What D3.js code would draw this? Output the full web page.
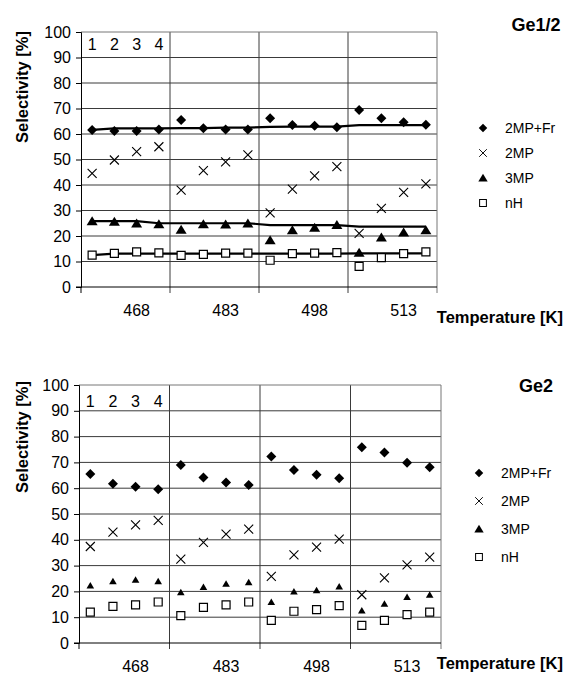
<!DOCTYPE html>
<html>
<head>
<meta charset="utf-8">
<script src="https://cdn.jsdelivr.net/npm/d3@7"></script>
<style>
  body { margin: 0; background: #fff; }
  svg { display: block; font-family: "Liberation Sans", Arial, sans-serif; }
</style>
</head>
<body>
<div id="chart"></div>
<script>
// categories
const temperatures = ['468', '483', '498', '513'];
const pointLabels = ['1', '2', '3', '4'];
const seriesNames = ['2MP+Fr', '2MP', '3MP', 'nH'];
const yTicks = [0, 10, 20, 30, 40, 50, 60, 70, 80, 90, 100];

// Ge1/2 values (16 points: 4 per temperature)
const ge12_2MPFr = [61.6, 61.2, 61.2, 61.8, 65.5, 62.3, 61.8, 61.8, 66.2, 63.5, 63.2, 62.6, 69.4, 66.2, 64.6, 63.6];
const ge12_2MP = [44.6, 49.8, 53.1, 55.0, 38.0, 45.6, 49.1, 51.8, 29.1, 38.4, 43.6, 47.2, 21.0, 30.8, 37.1, 40.4];
const ge12_3MP = [25.8, 25.6, 24.9, 24.6, 22.5, 24.6, 24.5, 24.9, 18.3, 22.3, 23.2, 24.3, 13.4, 19.4, 21.4, 22.3];
const ge12_nH = [12.5, 13.2, 13.8, 13.4, 12.4, 12.8, 13.3, 13.3, 10.5, 13.1, 13.3, 13.5, 8.1, 11.5, 13.1, 13.8];
// Ge1/2 trend lines
const ge12_trend2MPFr = [61.6, 62.2, 62.2, 62.2, 62.3, 62.3, 62.5, 62.5, 62.8, 62.9, 62.9, 62.9, 63.5, 63.5, 63.5, 63.5];
const ge12_trend3MP = [25.8, 25.8, 25.8, 25.0, 25.0, 25.0, 25.0, 25.0, 24.3, 24.3, 24.3, 24.3, 23.7, 23.7, 23.7, 23.7];
const ge12_trendNH = [12.5, 13.1, 13.1, 13.1, 13.1, 13.1, 13.1, 13.1, 13.1, 13.1, 13.1, 13.1, 13.2, 13.2, 13.2, 13.2];

// Ge2 values
const ge2_2MPFr = [65.5, 61.7, 60.6, 59.6, 69.0, 64.1, 62.2, 61.2, 72.3, 67.1, 65.2, 63.9, 75.9, 73.8, 69.9, 68.1];
const ge2_2MP = [37.4, 43.0, 45.8, 47.5, 32.5, 39.0, 42.2, 44.1, 25.8, 34.2, 37.2, 40.3, 18.7, 25.2, 30.3, 33.3];
const ge2_3MP = [22.3, 23.9, 24.5, 23.9, 19.7, 21.7, 23.0, 23.5, 15.9, 20.0, 20.4, 21.9, 12.6, 15.2, 17.8, 18.7];
const ge2_nH = [12.0, 14.2, 14.8, 15.9, 10.6, 13.8, 14.8, 15.9, 8.8, 12.3, 12.9, 14.5, 6.8, 8.8, 11.0, 12.0];

const W = 565, H = 680;
const svg = d3.select('#chart').append('svg')
    .attr('width', W)
    .attr('height', H);

// marker shapes
function markerPath(name, small) {
    if (name === '2MP+Fr') return 'M0,-5L5,0L0,5L-5,0Z';
    if (name === '2MP') return 'M-4.5,-4.5L4.5,4.5M-4.5,4.5L4.5,-4.5';
    if (name === '3MP') return small ? 'M0,-3.5L3.8,3L-3.8,3Z' : 'M0,-5L5.5,4L-5.5,4Z';
    return 'M-4,-4H4V4H-4Z';
}
function styleMarker(sel, name) {
    if (name === 'nH') {
        sel.attr('fill', '#fff').attr('stroke', '#000').attr('stroke-width', 1.2);
    } else if (name === '2MP') {
        sel.attr('fill', 'none').attr('stroke', '#000').attr('stroke-width', 1.1);
    } else {
        sel.attr('fill', '#000').attr('stroke', 'none');
    }
}

function drawPanel(p) {
    const g = svg.append('g');
    const x = d3.scaleBand().domain(d3.range(16)).range([p.left, p.right]);
    const xc = i => x(i) + x.bandwidth() / 2;
    const y = d3.scaleLinear().domain([0, 100]).range([p.bottom, p.top]);

    // horizontal grid
    g.selectAll('.grid')
        .data(yTicks.filter(v => v > 0 && v < 100))
        .join('line')
        .attr('x1', p.left).attr('x2', p.right)
        .attr('y1', d => y(d)).attr('y2', d => y(d))
        .attr('stroke', '#3a3a3a').attr('stroke-width', 1);

    // group dividers (extend below axis as ticks)
    g.selectAll('.div')
        .data([1, 2, 3])
        .join('line')
        .attr('x1', d => x(d * 4)).attr('x2', d => x(d * 4))
        .attr('y1', p.top).attr('y2', p.bottom + 6)
        .attr('stroke', '#3a3a3a').attr('stroke-width', 1);

    // top and right border
    g.append('line').attr('x1', p.left).attr('x2', p.right)
        .attr('y1', p.top).attr('y2', p.top)
        .attr('stroke', '#777').attr('stroke-width', 1);
    g.append('line').attr('x1', p.right).attr('x2', p.right)
        .attr('y1', p.top).attr('y2', p.bottom + 6)
        .attr('stroke', '#777').attr('stroke-width', 1);

    // y axis
    const yAxis = g.append('g')
        .attr('transform', `translate(${p.left},0)`)
        .call(d3.axisLeft(y).tickValues(yTicks).tickSize(5).tickPadding(5));
    yAxis.select('.domain').attr('stroke', '#000');
    yAxis.selectAll('.tick line').attr('stroke', '#000');
    yAxis.selectAll('.tick text')
        .attr('font-size', 16).attr('fill', '#000')
        .attr('font-family', '"Liberation Sans", Arial, sans-serif');

    // x axis line and ticks at group edges
    g.append('line').attr('x1', p.left - 5).attr('x2', p.right)
        .attr('y1', p.bottom).attr('y2', p.bottom)
        .attr('stroke', '#000').attr('stroke-width', 1);
    g.append('line').attr('x1', p.left).attr('x2', p.left)
        .attr('y1', p.bottom).attr('y2', p.bottom + 6)
        .attr('stroke', '#000');

    // temperature labels
    g.selectAll('.tl')
        .data(temperatures)
        .join('text')
        .attr('x', (d, i) => xc(i * 4 + 2))
        .attr('y', p.bottom + 23)
        .attr('dy', '0.35em')
        .attr('text-anchor', 'middle')
        .attr('font-size', 16)
        .text(d => d);

    // point index labels
    g.selectAll('.pl')
        .data(pointLabels)
        .join('text')
        .attr('x', (d, i) => xc(i))
        .attr('y', p.top + p.numOffset)
        .attr('dy', '0.35em')
        .attr('text-anchor', 'middle')
        .attr('font-size', 16)
        .text(d => d);

    // trend lines
    const line = d3.line().x((d, i) => xc(i)).y(d => y(d));
    p.trends.forEach(t => {
        g.append('path')
            .attr('d', line(t))
            .attr('fill', 'none')
            .attr('stroke', '#000')
            .attr('stroke-width', 2.2);
    });

    // markers
    seriesNames.forEach((name, si) => {
        const m = g.selectAll('.m' + si)
            .data(p.series[si])
            .join('path')
            .attr('d', markerPath(name, p.smallTri))
            .attr('transform', (d, i) => `translate(${xc(i)},${y(d)})`);
        styleMarker(m, name);
    });

    // legend
    const lg = g.append('g');
    seriesNames.forEach((name, si) => {
        const ly = p.legendY + si * p.legendStep;
        const m = lg.append('path')
            .attr('d', markerPath(name, false))
            .attr('transform', `translate(${p.legendX},${ly}) scale(0.85)`);
        styleMarker(m, name);
        lg.append('text')
            .attr('x', p.legendX + 22)
            .attr('y', ly)
            .attr('dy', '0.35em')
            .attr('font-size', 14)
            .text(name);
    });

    // panel title
    g.append('text')
        .attr('x', 536).attr('y', p.titleY)
        .attr('dy', '0.35em')
        .attr('text-anchor', 'middle')
        .attr('font-size', 18).attr('font-weight', 'bold')
        .text(p.title);

    // axis titles
    g.append('text')
        .attr('x', 563).attr('y', p.bottom + p.xTitleOff)
        .attr('dy', '0.35em')
        .attr('text-anchor', 'end')
        .attr('font-size', 16.5).attr('font-weight', 'bold')
        .text('Temperature [K]');
    g.append('text')
        .attr('transform', `translate(${p.yTitleX},${p.yTitleY}) rotate(-90)`)
        .attr('dy', '0.35em')
        .attr('text-anchor', 'middle')
        .attr('font-size', 16.5).attr('font-weight', 'bold')
        .text('Selectivity [%]');
}

drawPanel({
    title: 'Ge1/2', titleY: 25,
    left: 81, right: 437, top: 32, bottom: 287,
    numOffset: 12, smallTri: false,
    series: [ge12_2MPFr, ge12_2MP, ge12_3MP, ge12_nH],
    trends: [ge12_trend2MPFr, ge12_trend3MP, ge12_trendNH],
    legendX: 483, legendY: 128, legendStep: 25,
    xTitleOff: 30, yTitleX: 22, yTitleY: 87
});

drawPanel({
    title: 'Ge2', titleY: 386,
    left: 79, right: 441, top: 385, bottom: 643,
    numOffset: 16, smallTri: true,
    series: [ge2_2MPFr, ge2_2MP, ge2_3MP, ge2_nH],
    trends: [],
    legendX: 479, legendY: 473, legendStep: 28,
    xTitleOff: 20, yTitleX: 22, yTitleY: 437
});
</script>
</body>
</html>
